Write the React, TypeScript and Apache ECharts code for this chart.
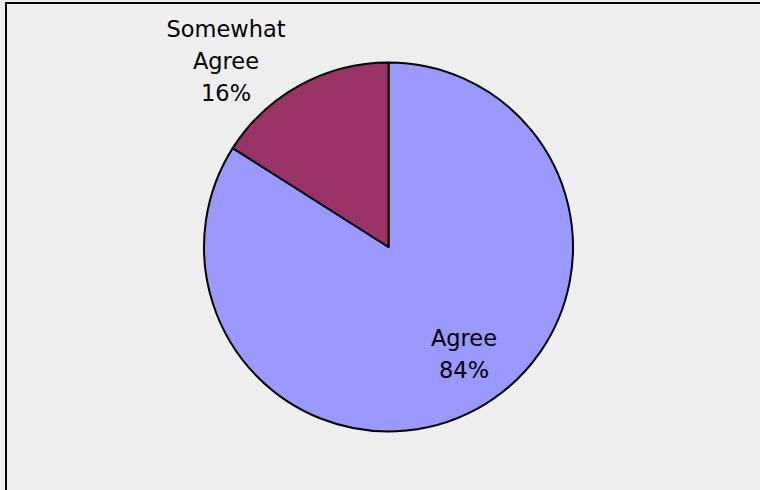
import React, { useEffect, useRef } from "react";
import * as echarts from "echarts";

const categories = ["Agree", "Somewhat Agree"];
const labelTexts = ["Agree", "Somewhat\nAgree"];
const values = [84, 16];
const colors = ["#9999FF", "#993366"];

export default function App() {
  const ref = useRef<HTMLDivElement>(null);
  useEffect(() => {
    if (!ref.current) return;
    const chart = echarts.init(ref.current, null, { renderer: "svg" });
    const labelPos = [
      { x: 464, y: 354 },
      { x: 226, y: 61 },
    ];
    chart.setOption({
      animation: false,
      backgroundColor: "#EEEEEE",
      graphic: [
        {
          type: "rect",
          shape: { x: 6, y: 3, width: 800, height: 600 },
          style: { fill: "none", stroke: "#000000", lineWidth: 2 },
          silent: true,
        },
      ],
      series: [
        {
          type: "pie",
          center: [388.5, 247],
          radius: [0, 184.5],
          startAngle: 90,
          clockwise: true,
          silent: true,
          itemStyle: { borderColor: "#000000", borderWidth: 2 },
          labelLine: { show: false },
          label: {
            show: true,
            position: "inside",
            color: "#000000",
            fontFamily: "DejaVu Sans",
            fontSize: 22.5,
            lineHeight: 32,
            align: "center",
            formatter: (p: any) => `${labelTexts[p.dataIndex]}\n${p.value}%`,
          },
          labelLayout: (p: any) => ({
            x: labelPos[p.dataIndex].x,
            y: labelPos[p.dataIndex].y,
            align: "center",
            verticalAlign: "middle",
          }),
          data: categories.map((c, i) => ({
            name: c,
            value: values[i],
            itemStyle: { color: colors[i] },
          })),
        },
      ],
    });
    return () => chart.dispose();
  }, []);
  return (
    <div
      ref={ref}
      style={{ position: "fixed", left: 0, top: 0, width: 760, height: 490 }}
    />
  );
}
